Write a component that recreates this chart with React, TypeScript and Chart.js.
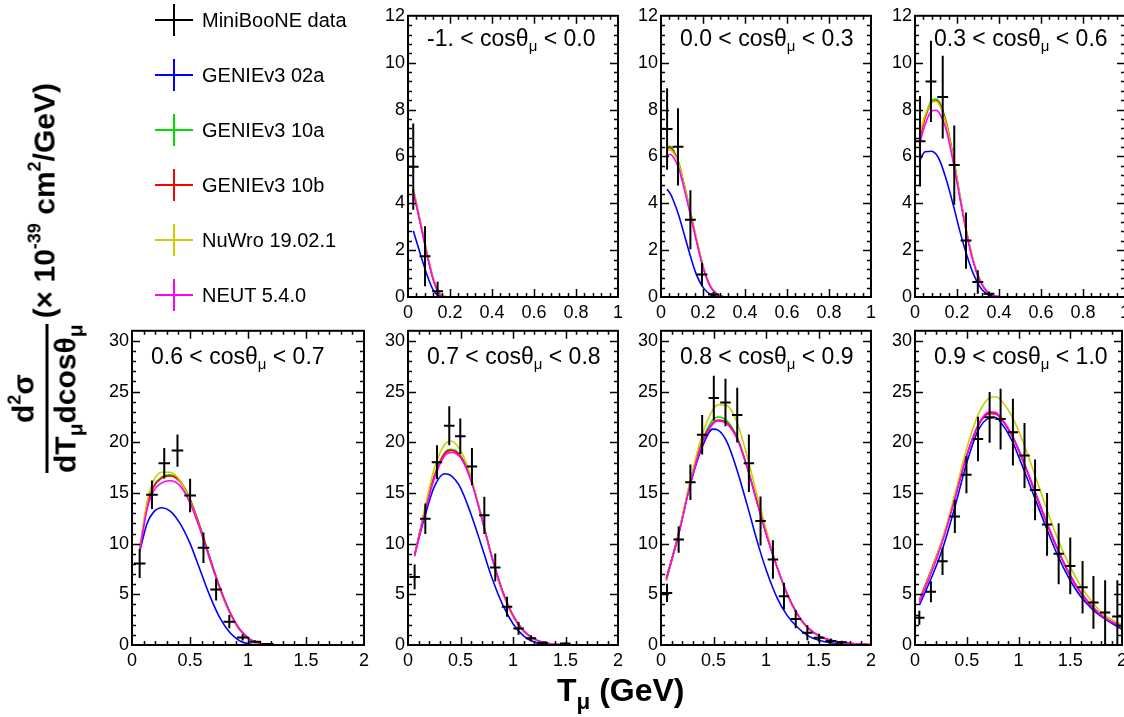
import React, { useEffect, useRef } from "react";
import { Chart, registerables } from "chart.js";

Chart.register(...registerables);

const FONT = '"Liberation Sans", Arial, Helvetica, sans-serif';

// ---------------- names / colours ----------------
const DATA_NAME = "MiniBooNE data";
const MODEL_NAMES = ["GENIEv3 02a", "GENIEv3 10a", "GENIEv3 10b", "NuWro 19.02.1", "NEUT 5.4.0"];
const MODEL_COLORS = ["#0000ff", "#00dd00", "#ff0000", "#cccc00", "#ff00ff"];
const COS_LOW = ["-1.", "0.0", "0.3", "0.6", "0.7", "0.8", "0.9"];
const COS_HIGH = ["0.0", "0.3", "0.6", "0.7", "0.8", "0.9", "1.0"];
const T_MAX = [1, 1, 1, 2, 2, 2, 2];
const XS_MAX = [12, 12, 12, 31, 31, 31, 31];

// ---------------- bin 1: -1 < cos < 0 ----------------
const DATA1_T = [0.025, 0.081, 0.141];
const DATA1_XS = [5.56, 1.74, 0.25];
const DATA1_ERR = [1.84, 1.28, 0.4];
const CURVE1_T = [0.025, 0.049, 0.073, 0.097, 0.121, 0.144, 0.168, 0.2, 1.0];
const CURVE1_G02A = [2.83, 2.12, 1.42, 0.78, 0.28, 0.07, 0, 0, 0];
const CURVE1_G10A = [4.6, 3.6, 2.6, 1.6, 0.75, 0.23, 0.02, 0, 0];
const CURVE1_G10B = [4.55, 3.57, 2.58, 1.58, 0.73, 0.22, 0.02, 0, 0];
const CURVE1_NUWRO = [4.65, 3.66, 2.66, 1.66, 0.79, 0.26, 0.03, 0, 0];
const CURVE1_NEUT = [4.5, 3.54, 2.55, 1.56, 0.71, 0.21, 0.01, 0, 0];

// ---------------- bin 2: 0.0 < cos < 0.3 ----------------
const DATA2_T = [0.029, 0.081, 0.14, 0.195, 0.25];
const DATA2_XS = [7.17, 6.41, 3.3, 0.96, 0.11];
const DATA2_ERR = [1.74, 1.65, 1.26, 0.5, 0.1];
const CURVE2_T = [0.029, 0.045, 0.06, 0.084, 0.108, 0.14, 0.171, 0.203, 0.235, 0.267, 0.3, 1.0];
const CURVE2_G02A = [4.6, 4.4, 4.1, 3.5, 2.75, 1.75, 0.9, 0.38, 0.11, 0.02, 0, 0];
const CURVE2_G10A = [6.42, 6.43, 6.26, 5.75, 4.9, 3.64, 2.38, 1.22, 0.46, 0.12, 0.01, 0];
const CURVE2_G10B = [6.36, 6.37, 6.2, 5.7, 4.85, 3.6, 2.35, 1.2, 0.45, 0.12, 0.01, 0];
const CURVE2_NUWRO = [6.25, 6.28, 6.15, 5.7, 4.88, 3.66, 2.42, 1.26, 0.48, 0.13, 0.01, 0];
const CURVE2_NEUT = [6.06, 6.08, 5.95, 5.5, 4.7, 3.5, 2.3, 1.18, 0.44, 0.11, 0.01, 0];

// ---------------- bin 3: 0.3 < cos < 0.6 ----------------
const DATA3_T = [0.024, 0.076, 0.132, 0.187, 0.243, 0.299, 0.352];
const DATA3_XS = [6.65, 9.2, 8.53, 5.63, 2.41, 0.64, 0.14];
const DATA3_ERR = [1.93, 1.73, 1.77, 1.69, 1.2, 0.5, 0.1];
const CURVE3_T = [0.021, 0.048, 0.079, 0.1, 0.119, 0.151, 0.183, 0.214, 0.246, 0.278, 0.31, 0.341, 0.373, 0.42, 1.0];
const CURVE3_G02A = [5.8, 6.2, 6.22, 6.1, 5.8, 4.95, 3.9, 2.8, 1.8, 0.98, 0.42, 0.13, 0.03, 0, 0];
const CURVE3_G10A = [6.8, 7.7, 8.38, 8.45, 8.27, 7.4, 5.95, 4.33, 2.78, 1.52, 0.71, 0.26, 0.06, 0, 0];
const CURVE3_G10B = [6.72, 7.64, 8.3, 8.38, 8.2, 7.35, 5.9, 4.3, 2.75, 1.5, 0.7, 0.25, 0.06, 0, 0];
const CURVE3_NUWRO = [6.9, 7.75, 8.3, 8.35, 8.15, 7.3, 5.9, 4.32, 2.8, 1.55, 0.73, 0.27, 0.07, 0, 0];
const CURVE3_NEUT = [6.5, 7.35, 7.93, 7.97, 7.8, 7.05, 5.7, 4.2, 2.7, 1.48, 0.68, 0.24, 0.06, 0, 0];

// ---------------- bin 4: 0.6 < cos < 0.7 ----------------
const DATA4_T = [0.066, 0.172, 0.278, 0.392, 0.501, 0.616, 0.725, 0.839, 0.954, 1.06, 1.17];
const DATA4_XS = [8.03, 14.82, 17.93, 19.18, 14.75, 9.6, 5.47, 2.3, 0.75, 0.33, 0.1];
const DATA4_ERR = [1.43, 1.4, 1.5, 1.6, 1.65, 1.5, 1.07, 0.65, 0.3, 0.15, 0.05];
const CURVE4_T = [0.066, 0.129, 0.186, 0.258, 0.329, 0.415, 0.501, 0.587, 0.673, 0.759, 0.845, 0.931, 1.017, 1.1, 1.2, 2.0];
const CURVE4_G02A = [9.2, 11.97, 13.11, 13.54, 13.21, 11.97, 10.0, 7.4, 4.8, 2.65, 1.2, 0.4, 0.1, 0.02, 0, 0];
const CURVE4_G10A = [9.4, 13.7, 15.68, 16.6, 16.8, 16.2, 14.4, 11.7, 8.6, 5.65, 3.25, 1.52, 0.56, 0.15, 0.03, 0];
const CURVE4_G10B = [9.34, 13.6, 15.57, 16.49, 16.69, 16.1, 14.3, 11.6, 8.5, 5.6, 3.2, 1.5, 0.55, 0.15, 0.03, 0];
const CURVE4_NUWRO = [9.6, 14.1, 16.2, 17.05, 17.05, 16.2, 14.2, 11.4, 8.3, 5.4, 3.05, 1.4, 0.5, 0.13, 0.02, 0];
const CURVE4_NEUT = [9.3, 13.35, 15.2, 16.0, 16.2, 15.7, 14.0, 11.4, 8.4, 5.55, 3.2, 1.5, 0.56, 0.15, 0.03, 0];

// ---------------- bin 5: 0.7 < cos < 0.8 ----------------
const DATA5_T = [0.063, 0.165, 0.276, 0.393, 0.498, 0.609, 0.727, 0.831, 0.943, 1.053, 1.171, 1.282, 1.498];
const DATA5_XS = [6.72, 12.46, 18.03, 21.64, 20.6, 17.6, 12.79, 7.64, 3.77, 1.64, 0.66, 0.23, 0.16];
const DATA5_ERR = [1.23, 1.5, 1.67, 1.92, 1.75, 1.83, 1.83, 1.38, 0.98, 0.64, 0.3, 0.12, 0.1];
const CURVE5_T = [0.063, 0.15, 0.25, 0.35, 0.41, 0.5, 0.6, 0.7, 0.8, 0.9, 1.0, 1.1, 1.2, 1.3, 1.4, 1.5, 2.0];
const CURVE5_G02A = [8.85, 12.3, 15.6, 16.9, 16.7, 15.5, 12.9, 9.8, 6.6, 4.0, 2.1, 0.9, 0.3, 0.08, 0.02, 0, 0];
const CURVE5_G10A = [8.85, 12.85, 16.7, 19.0, 19.3, 18.7, 16.4, 12.7, 8.7, 5.35, 2.95, 1.42, 0.6, 0.22, 0.07, 0.02, 0];
const CURVE5_G10B = [8.85, 12.8, 16.6, 18.9, 19.2, 18.6, 16.3, 12.6, 8.6, 5.3, 2.9, 1.4, 0.6, 0.22, 0.07, 0.02, 0];
const CURVE5_NUWRO = [8.7, 13.0, 17.4, 19.8, 20.1, 19.2, 16.6, 12.6, 8.5, 5.1, 2.75, 1.3, 0.55, 0.2, 0.06, 0.02, 0];
const CURVE5_NEUT = [8.8, 12.6, 16.4, 18.7, 19.0, 18.5, 16.2, 12.6, 8.6, 5.3, 2.9, 1.4, 0.6, 0.22, 0.07, 0.02, 0];

// ---------------- bin 6: 0.8 < cos < 0.9 ----------------
const DATA6_T = [0.057, 0.168, 0.28, 0.392, 0.503, 0.614, 0.726, 0.837, 0.948, 1.066, 1.171, 1.283, 1.394, 1.505, 1.617, 1.722];
const DATA6_XS = [5.14, 10.4, 16.06, 20.75, 24.36, 23.93, 22.69, 17.93, 12.23, 8.43, 4.82, 2.56, 1.21, 0.72, 0.39, 0.26];
const DATA6_ERR = [0.9, 1.3, 1.75, 1.95, 2.2, 2.35, 2.7, 2.83, 2.41, 1.9, 1.31, 0.9, 0.74, 0.4, 0.25, 0.15];
const CURVE6_T = [0.051, 0.168, 0.28, 0.391, 0.493, 0.544, 0.63, 0.726, 0.821, 0.917, 1.012, 1.108, 1.203, 1.299, 1.394, 1.521, 1.712, 2.0];
const CURVE6_G02A = [6.39, 10.98, 15.9, 19.5, 21.3, 21.2, 20.0, 17.2, 13.8, 10.2, 7.1, 4.6, 2.9, 1.75, 0.95, 0.42, 0.1, 0];
const CURVE6_G10A = [6.6, 11.0, 16.1, 20.1, 22.2, 22.5, 22.1, 20.5, 17.6, 14.1, 10.7, 7.65, 5.0, 3.05, 1.74, 0.82, 0.26, 0.03];
const CURVE6_G10B = [6.56, 10.98, 16.06, 20.0, 21.9, 22.2, 21.9, 20.4, 17.5, 14.0, 10.6, 7.6, 5.0, 3.05, 1.74, 0.82, 0.26, 0.03];
const CURVE6_NUWRO = [6.3, 11.0, 16.3, 20.7, 23.2, 23.7, 23.6, 21.9, 18.6, 14.7, 11.0, 7.6, 4.9, 2.95, 1.65, 0.75, 0.22, 0.03];
const CURVE6_NEUT = [6.5, 10.9, 15.9, 19.8, 21.8, 22.1, 21.8, 20.3, 17.5, 14.0, 10.6, 7.6, 5.0, 3.05, 1.74, 0.82, 0.26, 0.03];

// ---------------- bin 7: 0.9 < cos < 1.0 ----------------
const DATA7_T = [0.042, 0.154, 0.266, 0.385, 0.497, 0.609, 0.721, 0.827, 0.946, 1.058, 1.16, 1.276, 1.388, 1.5, 1.619, 1.724, 1.837, 1.955];
const DATA7_XS = [2.69, 5.25, 8.26, 12.69, 16.79, 20.33, 22.46, 22.29, 21.0, 18.7, 15.3, 11.9, 9.0, 7.8, 5.7, 4.2, 3.2, 2.8];
const DATA7_ERR = [0.7, 1.03, 1.36, 1.64, 1.83, 2.2, 2.5, 3.0, 3.3, 3.2, 3.0, 3.1, 3.0, 2.8, 2.6, 2.6, 3.2, 3.6];
const CURVE7_T = [0.042, 0.176, 0.272, 0.385, 0.497, 0.609, 0.721, 0.78, 0.817, 0.929, 1.042, 1.154, 1.266, 1.378, 1.49, 1.603, 1.715, 1.827, 2.0];
const CURVE7_G02A = [3.93, 7.05, 9.67, 13.6, 17.87, 21.15, 22.4, 22.45, 22.13, 20.33, 17.54, 14.59, 11.64, 8.85, 6.56, 4.75, 3.51, 2.62, 1.55];
const CURVE7_G10A = [4.43, 7.9, 10.6, 14.5, 18.6, 21.65, 22.9, 22.85, 22.55, 20.85, 18.25, 15.25, 12.25, 9.45, 7.05, 5.15, 3.75, 2.72, 1.78];
const CURVE7_G10B = [4.43, 7.9, 10.6, 14.5, 18.6, 21.6, 22.85, 22.8, 22.5, 20.8, 18.2, 15.2, 12.2, 9.4, 7.0, 5.1, 3.7, 2.7, 1.75];
const CURVE7_NUWRO = [4.3, 7.8, 10.7, 14.9, 19.3, 22.7, 24.4, 24.5, 24.3, 22.7, 20.1, 16.9, 13.6, 10.5, 7.9, 5.8, 4.2, 3.0, 2.0];
const CURVE7_NEUT = [4.2, 7.6, 10.4, 14.4, 18.6, 21.7, 23.0, 22.95, 22.6, 20.9, 18.3, 15.3, 12.3, 9.5, 7.1, 5.2, 3.8, 2.75, 1.8];

type PanelData = {
  dataT: number[];
  dataXs: number[];
  dataErr: number[];
  curveT: number[];
  models: number[][];
};

const PANELS: PanelData[] = [
  { dataT: DATA1_T, dataXs: DATA1_XS, dataErr: DATA1_ERR, curveT: CURVE1_T, models: [CURVE1_G02A, CURVE1_G10A, CURVE1_G10B, CURVE1_NUWRO, CURVE1_NEUT] },
  { dataT: DATA2_T, dataXs: DATA2_XS, dataErr: DATA2_ERR, curveT: CURVE2_T, models: [CURVE2_G02A, CURVE2_G10A, CURVE2_G10B, CURVE2_NUWRO, CURVE2_NEUT] },
  { dataT: DATA3_T, dataXs: DATA3_XS, dataErr: DATA3_ERR, curveT: CURVE3_T, models: [CURVE3_G02A, CURVE3_G10A, CURVE3_G10B, CURVE3_NUWRO, CURVE3_NEUT] },
  { dataT: DATA4_T, dataXs: DATA4_XS, dataErr: DATA4_ERR, curveT: CURVE4_T, models: [CURVE4_G02A, CURVE4_G10A, CURVE4_G10B, CURVE4_NUWRO, CURVE4_NEUT] },
  { dataT: DATA5_T, dataXs: DATA5_XS, dataErr: DATA5_ERR, curveT: CURVE5_T, models: [CURVE5_G02A, CURVE5_G10A, CURVE5_G10B, CURVE5_NUWRO, CURVE5_NEUT] },
  { dataT: DATA6_T, dataXs: DATA6_XS, dataErr: DATA6_ERR, curveT: CURVE6_T, models: [CURVE6_G02A, CURVE6_G10A, CURVE6_G10B, CURVE6_NUWRO, CURVE6_NEUT] },
  { dataT: DATA7_T, dataXs: DATA7_XS, dataErr: DATA7_ERR, curveT: CURVE7_T, models: [CURVE7_G02A, CURVE7_G10A, CURVE7_G10B, CURVE7_NUWRO, CURVE7_NEUT] },
];

// ---------------- layout (page pixels of each plot frame) ----------------
const FRAMES = [
  { l: 408, t: 14, r: 618, b: 297 },
  { l: 661, t: 14, r: 871, b: 297 },
  { l: 915, t: 14, r: 1125, b: 297 },
  { l: 132, t: 329, r: 364, b: 645 },
  { l: 408, t: 329, r: 618, b: 645 },
  { l: 661, t: 329, r: 871, b: 645 },
  { l: 915, t: 329, r: 1122, b: 645 },
];

const PAD_L = 50;
const PAD_R = 16;
const PAD_T = 12;
const PAD_B = 34;

function Panel({ idx }: { idx: number }) {
  const ref = useRef<HTMLCanvasElement | null>(null);
  const f = FRAMES[idx];
  const w = f.r - f.l + PAD_L + PAD_R;
  const h = f.b - f.t + PAD_T + PAD_B;

  useEffect(() => {
    const p = PANELS[idx];
    const topRow = idx < 3;
    const tMax = T_MAX[idx];
    const yMax = XS_MAX[idx];
    const xMajor = topRow ? 0.2 : 0.5;
    const xMinor = topRow ? 0.04 : 0.1;
    const yMajor = topRow ? 2 : 5;
    const yMinor = topRow ? 0.4 : 1;
    const halfW = topRow ? 0.026 : 0.05;

    const datasets: any[] = [
      {
        type: "scatter",
        label: DATA_NAME,
        data: p.dataT.map((t, i) => ({ x: t, y: p.dataXs[i] })),
        pointRadius: 0,
        showLine: false,
        borderColor: "#000",
        backgroundColor: "#000",
        order: 20,
      },
      ...p.models.map((m, k) => ({
        type: "line",
        label: MODEL_NAMES[k],
        data: p.curveT.map((t, i) => ({ x: t, y: m[i] })),
        borderColor: MODEL_COLORS[k],
        backgroundColor: MODEL_COLORS[k],
        borderWidth: 1.6,
        pointRadius: 0,
        cubicInterpolationMode: "monotone",
        fill: false,
        // later models drawn on top (lower order = drawn last)
        order: 10 - k,
      })),
    ];

    const errPlugin = {
      id: "errbars",
      afterDatasetsDraw(chart: any) {
        const { ctx, chartArea: a, scales } = chart;
        const sx = scales.x;
        const sy = scales.y;
        ctx.save();
        ctx.beginPath();
        ctx.rect(a.left, a.top, a.right - a.left, a.bottom - a.top);
        ctx.clip();
        ctx.beginPath();
        ctx.strokeStyle = "#000";
        ctx.lineWidth = 2;
        p.dataT.forEach((t, i) => {
          const v = p.dataXs[i];
          const e = p.dataErr[i];
          const px = sx.getPixelForValue(t);
          const py = sy.getPixelForValue(v);
          ctx.moveTo(sx.getPixelForValue(t - halfW), py);
          ctx.lineTo(sx.getPixelForValue(t + halfW), py);
          ctx.moveTo(px, sy.getPixelForValue(Math.max(0, v - e)));
          ctx.lineTo(px, sy.getPixelForValue(v + e));
        });
        ctx.stroke();
        ctx.restore();
      },
    };

    const framePlugin = {
      id: "frame",
      afterDraw(chart: any) {
        const { ctx, chartArea: a, scales } = chart;
        const sx = scales.x;
        const sy = scales.y;
        ctx.save();
        ctx.strokeStyle = "#000";
        ctx.lineWidth = 1.5;
        ctx.beginPath();
        const nx = Math.round(tMax / xMinor);
        for (let i = 1; i < nx; i++) {
          const v = i * xMinor;
          const r = v / xMajor;
          const major = Math.abs(r - Math.round(r)) < 1e-6;
          const len = major ? 8 : 4;
          const px = Math.round(sx.getPixelForValue(v)) + 0.5;
          ctx.moveTo(px, a.bottom);
          ctx.lineTo(px, a.bottom - len);
          ctx.moveTo(px, a.top);
          ctx.lineTo(px, a.top + len);
        }
        const ny = Math.floor(yMax / yMinor + 1e-6);
        for (let i = 1; i <= ny; i++) {
          const v = i * yMinor;
          if (v >= yMax - 1e-6) continue;
          const r = v / yMajor;
          const major = Math.abs(r - Math.round(r)) < 1e-6;
          const len = major ? 8 : 4;
          const py = Math.round(sy.getPixelForValue(v)) + 0.5;
          ctx.moveTo(a.left, py);
          ctx.lineTo(a.left + len, py);
          ctx.moveTo(a.right, py);
          ctx.lineTo(a.right - len, py);
        }
        ctx.stroke();
        ctx.lineWidth = 2;
        ctx.strokeRect(a.left, a.top, a.right - a.left, a.bottom - a.top);

        // panel title
        const tx = a.left + 19;
        const ty = a.top + (topRow ? 30 : 33);
        ctx.fillStyle = "#000";
        ctx.textAlign = "left";
        ctx.textBaseline = "alphabetic";
        ctx.font = `23px ${FONT}`;
        const s1 = `${COS_LOW[idx]} < cosθ`;
        ctx.fillText(s1, tx, ty);
        let x2 = tx + ctx.measureText(s1).width;
        ctx.font = `15px ${FONT}`;
        ctx.fillText("μ", x2, ty + 5);
        x2 += ctx.measureText("μ").width;
        ctx.font = `23px ${FONT}`;
        ctx.fillText(` < ${COS_HIGH[idx]}`, x2, ty);
        ctx.restore();
      },
    };

    const fmt = (v: any) => String(Math.round(Number(v) * 1000) / 1000);

    const chart = new Chart(ref.current as HTMLCanvasElement, {
      type: "line",
      data: { datasets },
      options: {
        responsive: false,
        animation: false,
        devicePixelRatio: 1,
        layout: { padding: { left: 0, right: PAD_R, top: PAD_T, bottom: 0 } },
        plugins: {
          legend: { display: false },
          tooltip: { enabled: false },
          title: { display: false },
        },
        scales: {
          x: {
            type: "linear",
            min: 0,
            max: tMax,
            afterFit: (s: any) => {
              s.height = PAD_B;
            },
            grid: { display: false, drawTicks: false },
            border: { display: false },
            ticks: {
              stepSize: xMajor,
              includeBounds: false,
              autoSkip: false,
              maxRotation: 0,
              minRotation: 0,
              padding: 5,
              color: "#000",
              font: { family: FONT, size: 18 },
              callback: fmt,
            },
          },
          y: {
            type: "linear",
            min: 0,
            max: yMax,
            afterFit: (s: any) => {
              s.width = PAD_L;
            },
            grid: { display: false, drawTicks: false },
            border: { display: false },
            ticks: {
              stepSize: yMajor,
              includeBounds: false,
              autoSkip: false,
              padding: 3,
              color: "#000",
              font: { family: FONT, size: 18 },
              callback: fmt,
            },
          },
        },
      } as any,
      plugins: [errPlugin, framePlugin],
    } as any);
    return () => chart.destroy();
  }, [idx]);

  return (
    <canvas
      ref={ref}
      width={w}
      height={h}
      style={{ position: "absolute", left: f.l - PAD_L, top: f.t - PAD_T, width: w, height: h }}
    />
  );
}

const LEGEND_LABELS = [DATA_NAME, ...MODEL_NAMES];
const LEGEND_COLORS = ["#000000", ...MODEL_COLORS];

const supStyle: React.CSSProperties = { fontSize: "0.6em", position: "relative", top: "-0.75em" };
const subStyle: React.CSSProperties = { fontSize: "0.7em", position: "relative", top: "0.35em" };

export default function App() {
  return (
    <div
      style={{
        position: "absolute",
        left: 0,
        top: 0,
        width: 1124,
        height: 717,
        overflow: "hidden",
        background: "#ffffff",
        fontFamily: FONT,
        color: "#000",
      }}
    >
      {PANELS.map((_, i) => (
        <Panel key={i} idx={i} />
      ))}

      {/* legend */}
      {LEGEND_LABELS.map((lab, i) => {
        const cy = 20 + 55 * i;
        const c = LEGEND_COLORS[i];
        return (
          <div key={lab} style={{ position: "absolute", left: 155, top: cy - 16, width: 240, height: 32 }}>
            <div style={{ position: "absolute", left: 0, top: 15, width: 38, height: 2, background: c }} />
            <div style={{ position: "absolute", left: 18, top: 0, width: 2, height: 32, background: c }} />
            <div
              style={{
                position: "absolute",
                left: 47,
                top: 6,
                fontSize: 20,
                lineHeight: "20px",
                whiteSpace: "nowrap",
              }}
            >
              {lab}
            </div>
          </div>
        );
      })}

      {/* y axis title */}
      <div
        style={{
          position: "absolute",
          left: 46,
          top: 278,
          transform: "translate(-50%, -50%) rotate(-90deg)",
          whiteSpace: "nowrap",
          fontWeight: "bold",
          fontSize: 30,
          lineHeight: "30px",
          display: "flex",
          alignItems: "center",
        }}
      >
        <div style={{ display: "inline-flex", flexDirection: "column", alignItems: "center" }}>
          <div>
            d<span style={supStyle}>2</span>σ
          </div>
          <div style={{ height: 3, background: "#000", alignSelf: "stretch", margin: "3px 0 2px 0" }} />
          <div>
            dT<span style={subStyle}>μ</span>dcosθ<span style={subStyle}>μ</span>
          </div>
        </div>
        <div style={{ marginLeft: 6 }}>
          (× 10<span style={supStyle}>-39</span> cm<span style={supStyle}>2</span>/GeV)
        </div>
      </div>

      {/* x axis title */}
      <div
        style={{
          position: "absolute",
          left: 557,
          top: 674,
          fontSize: 32,
          fontWeight: "bold",
          lineHeight: "32px",
          whiteSpace: "nowrap",
        }}
      >
        T<span style={subStyle}>μ</span> (GeV)
      </div>
    </div>
  );
}
